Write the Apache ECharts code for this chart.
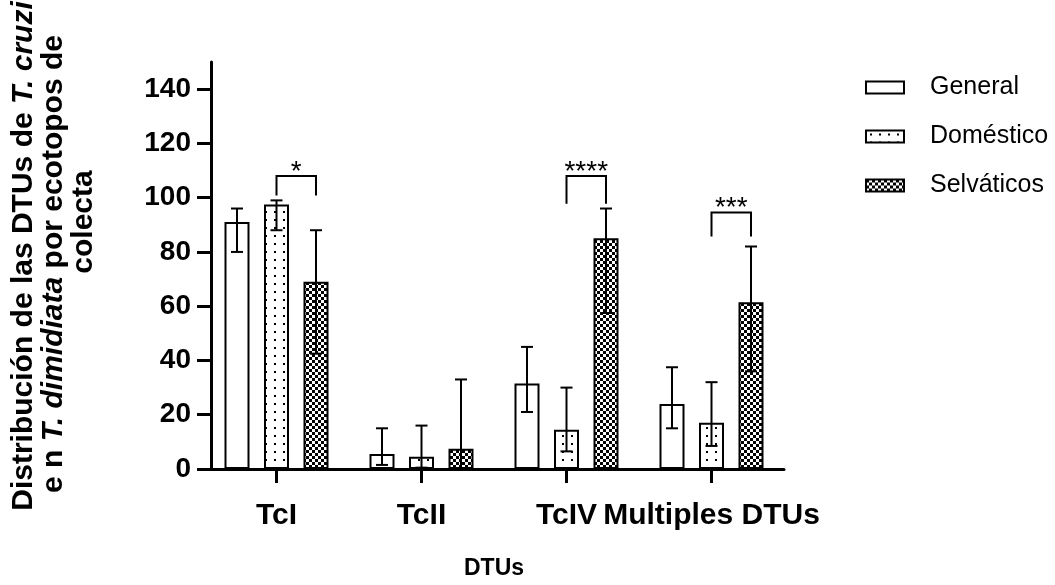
<!DOCTYPE html>
<html>
<head>
<meta charset="utf-8">
<script src="https://cdn.jsdelivr.net/npm/echarts@6/dist/echarts.min.js"></script>
<style>
  html, body { margin: 0; padding: 0; background: #fff; }
  #chart { width: 1055px; height: 585px; }
</style>
</head>
<body>
<div id="chart"></div>
<script>
// DTU categories and the three collection ecotopes
const categories = ['TcI', 'TcII', 'TcIV', 'Multiples DTUs'];
const seriesNames = ['General', 'Doméstico', 'Selváticos'];

// Bar heights (%)
const general    = [91, 5.5, 31.5, 24];
const domestico  = [97.5, 4.5, 14.5, 17];
const selvaticos = [69, 7.5, 85, 61.5];

// Error bar limits (lower / upper)
const generalLow    = [80, 1.5, 21, 15];
const generalHigh   = [96, 15, 45, 37.5];
const domesticoLow  = [88, 0.5, 6.5, 8.5];
const domesticoHigh = [99, 16, 30, 32];
const selvaticosLow  = [42.5, 0.3, 57.5, 36];
const selvaticosHigh = [88, 33, 96, 82];

// Significance brackets between Doméstico and Selváticos
const sigCategory = [0, 2, 3];
const sigLabel    = ['*', '****', '***'];
const sigTop      = [108, 108, 94.5];
const sigFoot     = [100.8, 97.8, 85.7];

// Y axis ticks
const yTicks = [0, 20, 40, 60, 80, 100, 120, 140];

const FONT = '"Liberation Sans", Arial, Helvetica, sans-serif';
const BAR_W = 25;
const BAR_GAP = 0.58;
const STEP = BAR_W * (1 + BAR_GAP);

function makeTile(w, h, draw) {
  const c = document.createElement('canvas');
  c.width = w; c.height = h;
  const g = c.getContext('2d');
  g.fillStyle = '#fff';
  g.fillRect(0, 0, w, h);
  g.fillStyle = '#000';
  draw(g);
  return c;
}
const dotTile = makeTile(9, 8, g => g.fillRect(4, 3, 2, 2));
const checkTile = makeTile(6, 6, g => { g.fillRect(0, 0, 3, 3); g.fillRect(3, 3, 3, 3); });

const fills = ['#ffffff',
  { image: dotTile, repeat: 'repeat' },
  { image: checkTile, repeat: 'repeat' }];

const values = [general, domestico, selvaticos];
const lows = [generalLow, domesticoLow, selvaticosLow];
const highs = [generalHigh, domesticoHigh, selvaticosHigh];

const barSeries = seriesNames.map((name, i) => ({
  name: name,
  type: 'bar',
  data: values[i],
  barWidth: BAR_W,
  barGap: (BAR_GAP * 100) + '%',
  itemStyle: { color: fills[i], borderColor: '#000', borderWidth: 2 },
  emphasis: { disabled: true },
  z: 2
}));

const errData = [];
for (let s = 0; s < 3; s++) {
  for (let c = 0; c < categories.length; c++) {
    errData.push([c, s, lows[s][c], highs[s][c]]);
  }
}

const sigData = sigCategory.map((c, i) => [c, sigTop[i], sigFoot[i], i]);

// Rotated y-axis title, one text element per line
const titleRich = {
  b: { fontFamily: FONT, fontSize: 30, fontWeight: 'bold', fill: '#000' },
  bi: { fontFamily: FONT, fontSize: 30, fontWeight: 'bold', fontStyle: 'italic', fill: '#000' }
};
function titleLine(text, x, y) {
  return {
    type: 'text', x: x, y: y, rotation: Math.PI / 2,
    style: { text: text, align: 'center', verticalAlign: 'middle', fill: '#000', rich: titleRich }
  };
}

const option = {
  animation: false,
  backgroundColor: '#fff',
  grid: { left: 204, right: 271, top: 62, bottom: 112 },
  legend: {
    orient: 'vertical',
    left: 865,
    top: 75,
    padding: 0,
    icon: 'rect',
    itemWidth: 38,
    itemHeight: 12,
    itemGap: 24,
    data: seriesNames,
    textStyle: { fontFamily: FONT, fontSize: 25, color: '#000', padding: [0, 0, 0, 21] }
  },
  xAxis: {
    type: 'category',
    data: categories,
    name: 'DTUs',
    nameLocation: 'middle',
    nameGap: 88,
    nameTextStyle: { fontFamily: FONT, fontSize: 23, fontWeight: 'bold', color: '#000' },
    axisLine: { lineStyle: { color: '#000', width: 3 } },
    axisTick: { show: true, alignWithLabel: true, length: 14, lineStyle: { color: '#000', width: 3 } },
    axisLabel: { fontFamily: FONT, fontSize: 30, fontWeight: 'bold', color: '#000', margin: 32, interval: 0 }
  },
  yAxis: {
    type: 'value',
    min: 0,
    max: 150,
    offset: -7,
    splitLine: { show: false },
    axisLine: { show: true, lineStyle: { color: '#000', width: 3 } },
    axisTick: { show: true, length: 14, customValues: yTicks, lineStyle: { color: '#000', width: 3 } },
    axisLabel: { fontFamily: FONT, fontSize: 28, fontWeight: 'bold', color: '#000', margin: 20, customValues: yTicks }
  },
  graphic: [
    titleLine('{b|Distribución de las DTUs de }{bi|T. cruzi}', 24, 256),
    titleLine('{b|e n }{bi|T. dimidiata}{b| por ecotopos de}', 54, 264),
    titleLine('{b|colecta}', 84, 222)
  ],
  series: barSeries.concat([
    {
      name: 'errores',
      type: 'custom',
      data: errData,
      encode: { x: 0, y: [2, 3] },
      z: 5,
      silent: true,
      renderItem: function (params, api) {
        const c = api.value(0), s = api.value(1);
        const x = api.coord([c, 0])[0] + (s - 1) * STEP;
        const yLo = api.coord([c, api.value(2)])[1];
        const yHi = api.coord([c, api.value(3)])[1];
        const cap = 6;
        const st = { stroke: '#000', lineWidth: 2 };
        return {
          type: 'group',
          children: [
            { type: 'line', shape: { x1: x, y1: yLo, x2: x, y2: yHi }, style: st },
            { type: 'line', shape: { x1: x - cap, y1: yHi, x2: x + cap, y2: yHi }, style: st },
            { type: 'line', shape: { x1: x - cap, y1: yLo, x2: x + cap, y2: yLo }, style: st }
          ]
        };
      }
    },
    {
      name: 'significancia',
      type: 'custom',
      data: sigData,
      encode: { x: 0, y: 1 },
      z: 5,
      silent: true,
      renderItem: function (params, api) {
        const c = api.value(0);
        const xc = api.coord([c, 0])[0];
        const xL = xc, xR = xc + STEP;
        const yT = api.coord([c, api.value(1)])[1];
        const yF = api.coord([c, api.value(2)])[1];
        return {
          type: 'group',
          children: [
            { type: 'polyline', shape: { points: [[xL, yF], [xL, yT], [xR, yT], [xR, yF]] },
              style: { stroke: '#000', lineWidth: 2, fill: null } },
            { type: 'text', style: { text: sigLabel[api.value(3)], x: (xL + xR) / 2, y: yT + 10,
              align: 'center', verticalAlign: 'bottom', fill: '#000',
              font: '28px ' + FONT } }
          ]
        };
      }
    }
  ])
};

const chart = echarts.init(document.getElementById('chart'), null, { renderer: 'canvas' });
chart.setOption(option);
</script>
</body>
</html>
